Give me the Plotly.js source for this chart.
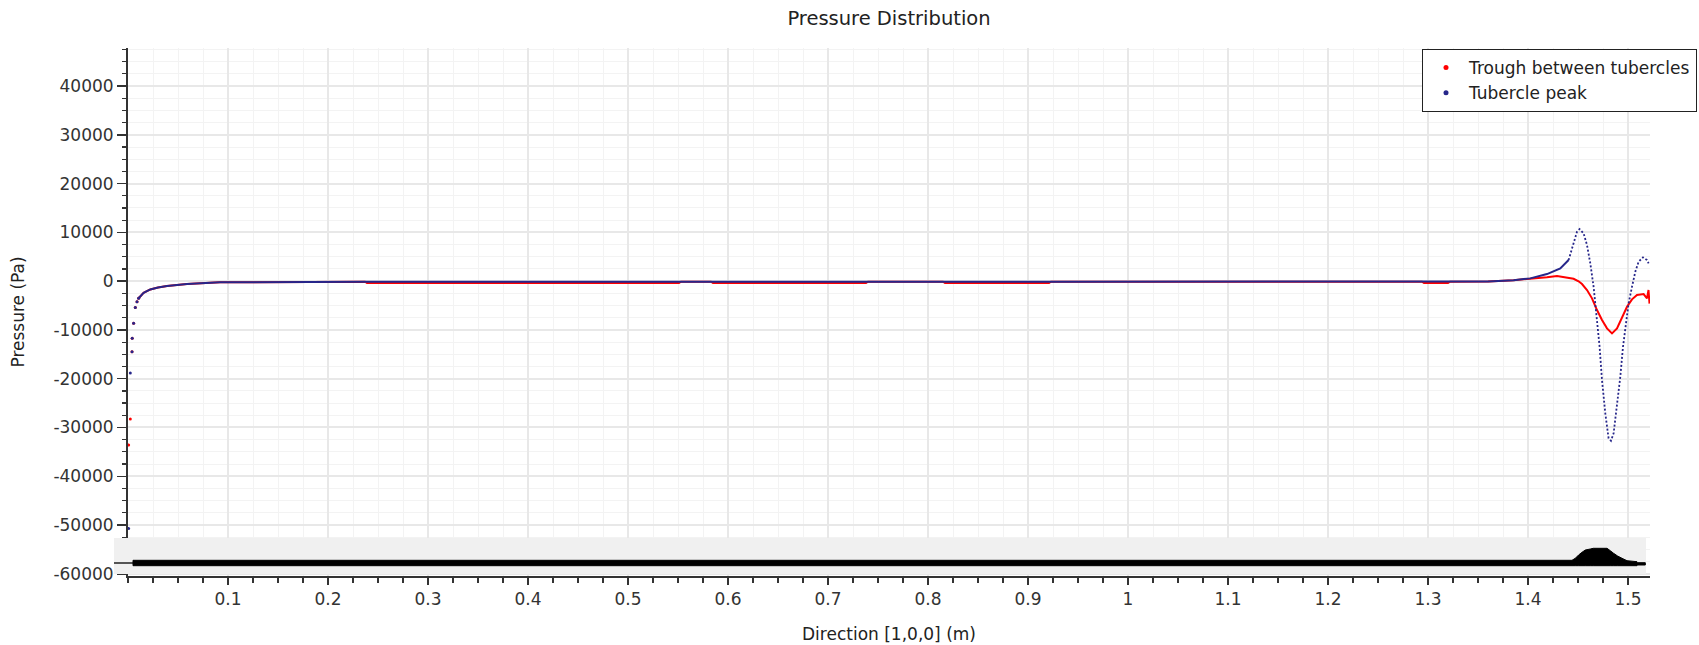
<!DOCTYPE html>
<html><head><meta charset="utf-8">
<script src="https://cdn.plot.ly/plotly-3.0.1.min.js"></script>
<style>html,body{margin:0;padding:0;background:#fff;} #chart{width:1699px;height:645px;}</style>
</head><body><div id="chart"></div>
<script>
// ---- series names ----
const nameTrough = 'Trough between tubercles';
const namePeak = 'Tubercle peak';

// ---- Trough between tubercles (x in m, pressure in Pa) ----
const x_trough = [0.0006, 0.0023, 0.004, 0.0042, 0.0056, 0.0073, 0.009, 0.0106, 0.0156, 0.0223, 0.030, 0.039, 0.059, 0.092, 0.15,
  0.237, 0.239, 0.551, 0.553, 0.583, 0.585, 0.738, 0.740, 0.815, 0.817, 0.921, 0.923, 1.294, 1.296, 1.320, 1.322,
  1.36, 1.3856, 1.4023, 1.4106, 1.419, 1.429, 1.439, 1.4456, 1.4506, 1.454, 1.459, 1.464, 1.469, 1.474, 1.479, 1.484,
  1.489, 1.494, 1.499, 1.504, 1.509, 1.5156, 1.519, 1.5205, 1.5215];
const p_trough = [-33600, -28270, -14450, -11700, -8650, -5400, -4200, -3500, -2400, -1700, -1300, -1000, -600, -250, -150,
  -100, -380, -380, -100, -100, -380, -380, -100, -100, -380, -380, -100, -100, -380, -380, -100,
  -50, 200, 430, 635, 780, 1045, 780, 490, -40, -595, -1825, -3525, -5925, -7975, -9675, -10700,
  -9675, -7625, -5250, -3730, -2850, -2645, -3525, -1825, -4600];

// ---- Tubercle peak ----
const x_peak = [0.0006, 0.0023, 0.004, 0.0042, 0.0056, 0.0073, 0.009, 0.0106, 0.0156, 0.0223, 0.030, 0.039, 0.059, 0.092, 0.15,
  0.24, 0.92, 1.30, 1.36, 1.3856, 1.4023, 1.419, 1.4323, 1.4406,
  1.4456, 1.449, 1.4516, 1.4556, 1.459, 1.4623, 1.4656, 1.469, 1.4716, 1.474, 1.4773, 1.4806, 1.483, 1.4856,
  1.489, 1.4923, 1.495, 1.4973, 1.5006, 1.504, 1.5073, 1.5106, 1.515, 1.519, 1.5206];
const p_peak = [-50700, -18850, -14450, -11700, -8650, -5400, -4200, -3500, -2400, -1700, -1300, -1000, -600, -250, -150,
  -100, -100, -100, -50, 200, 570, 1455, 2620, 4325,
  7750, 10130, 10680, 9800, 7400, 3650, -1150, -7975, -13450, -20275, -27100, -32230, -32720, -31200,
  -25750, -19600, -13450, -9350, -4550, -1150, 1930, 3980, 4880, 4325, 3650];

// ---- tick labels ----
const x_tickvals = [0.1, 0.2, 0.3, 0.4, 0.5, 0.6, 0.7, 0.8, 0.9, 1.0, 1.1, 1.2, 1.3, 1.4, 1.5];
const x_ticktext = ['0.1', '0.2', '0.3', '0.4', '0.5', '0.6', '0.7', '0.8', '0.9', '1', '1.1', '1.2', '1.3', '1.4', '1.5'];
const y_tickvals = [-60000, -50000, -40000, -30000, -20000, -10000, 0, 10000, 20000, 30000, 40000];
const y_ticktext = ['-60000', '-50000', '-40000', '-30000', '-20000', '-10000', '0', '10000', '20000', '30000', '40000'];

// ---- geometry thumbnail profile (x in m, heights in strip pixels above strip bottom) ----
const profile_x = [0.005, 1.444, 1.4473, 1.4506, 1.454, 1.4573, 1.4623, 1.4653, 1.479, 1.4823, 1.4856, 1.4896, 1.494, 1.499, 1.509, 1.5095, 1.5173];
const profile_top = [13.7, 13.7, 15.7, 19, 21.7, 24, 25, 25.7, 25.7, 23.3, 20.7, 18, 15.7, 13.3, 12.3, 11.3, 11.3];
const profile_bottom = [8.3, 8.3, 8.3, 8.3, 8.3, 8.3, 8.3, 8.3, 8.3, 8.3, 8.3, 8.3, 8.3, 8.3, 8.3, 9, 9];

// ---- helpers ----
const RED = '#ff0000', BLUE = '#26268a';
function pick(xs, ys, f) {
  const ox = [], oy = [];
  xs.forEach((v, i) => { if (f(v)) { ox.push(v); oy.push(ys[i]); } });
  return {x: ox, y: oy};
}
const FONT = 'DejaVu Sans, Verdana, sans-serif';

const tR_m = pick(x_trough, p_trough, v => v <= 0.0106);
const tR_l = pick(x_trough, p_trough, v => v >= 0.0106);
const tB_m = pick(x_peak, p_peak, v => v <= 0.0106);
const tB_l = pick(x_peak, p_peak, v => v >= 0.0106 && v <= 1.4406);
const tB_d = pick(x_peak, p_peak, v => v >= 1.4406);

const traces = [
  {x: tR_l.x, y: tR_l.y, mode: 'lines', line: {color: RED, width: 2}, showlegend: false, hoverinfo: 'skip'},
  {x: tR_m.x, y: tR_m.y, mode: 'markers', marker: {color: RED, size: 3}, showlegend: false, hoverinfo: 'skip'},
  {x: tB_l.x, y: tB_l.y, mode: 'lines', line: {color: BLUE, width: 2}, showlegend: false, hoverinfo: 'skip'},
  {x: tB_d.x, y: tB_d.y, mode: 'lines', line: {color: BLUE, width: 1.8, dash: '2px,2px'}, showlegend: false, hoverinfo: 'skip'},
  {x: tB_m.x, y: tB_m.y, mode: 'markers', marker: {color: BLUE, size: 3}, showlegend: false, hoverinfo: 'skip'},
  {x: [null], y: [null], mode: 'markers', name: nameTrough, marker: {color: RED, size: 5}},
  {x: [null], y: [null], mode: 'markers', name: namePeak, marker: {color: BLUE, size: 5}}
];

// strip geometry (paper coordinates)
const M = {l: 128, r: 49, t: 48, b: 69, autoexpand: false};
const plotH = 645 - M.t - M.b;
const stripBottomPx = 2, stripTopPx = 38; // measured above x-axis line
const yp = h => (stripBottomPx + h) / plotH;
let path = '';
profile_x.forEach((v, i) => { path += (i === 0 ? 'M' : 'L') + v + ',' + yp(profile_top[i]); });
for (let i = profile_x.length - 1; i >= 0; i--) { path += 'L' + profile_x[i] + ',' + yp(profile_bottom[i]); }
path += 'Z';

const shapes = [
  {type: 'rect', xref: 'paper', yref: 'paper', x0: -0.0092, x1: 0.9974, y0: stripBottomPx / plotH, y1: stripTopPx / plotH,
   fillcolor: '#f0f0f0', line: {width: 0}, layer: 'above'},
  {type: 'line', xref: 'paper', yref: 'paper', x0: -0.0092, x1: 0.0033, y0: yp(11), y1: yp(11),
   line: {color: '#555', width: 2}, layer: 'above'},
  {type: 'path', xref: 'x', yref: 'paper', path: path, fillcolor: '#000', line: {color: '#000', width: 1}, layer: 'above'}
];

const layout = {
  width: 1699, height: 645,
  margin: M,
  paper_bgcolor: '#fff', plot_bgcolor: '#fff',
  font: {family: FONT, size: 17, color: '#222'},
  title: {text: 'Pressure Distribution', font: {family: FONT, size: 19.5, color: '#222'}, x: 0.5, xref: 'paper', y: 1 - 18 / 645, yref: 'container', yanchor: 'middle'},
  showlegend: true,
  legend: {x: 0.8502, y: 0.998, xanchor: 'left', yanchor: 'top', bgcolor: '#fff', bordercolor: '#222', borderwidth: 1,
           itemwidth: 36, font: {family: FONT, size: 17, color: '#222'}},
  xaxis: {
    range: [0, 1.522], tickmode: 'array', tickvals: x_tickvals, ticktext: x_ticktext,
    ticks: 'outside', ticklen: 7, tickwidth: 1.5, tickcolor: '#333',
    showline: true, linecolor: '#333', linewidth: 2, zeroline: false,
    showgrid: true, gridcolor: '#e8e8e8', gridwidth: 2,
    tickfont: {family: FONT, size: 17, color: '#333'},
    minor: {tickmode: 'linear', tick0: 0, dtick: 0.025, ticks: 'outside', ticklen: 5, tickwidth: 1.2, tickcolor: '#333', showgrid: true, gridcolor: '#f3f3f3', gridwidth: 1},
    title: {text: 'Direction [1,0,0] (m)', font: {family: FONT, size: 17, color: '#222'}, standoff: 20},
    automargin: false, fixedrange: true
  },
  yaxis: {
    range: [-60450, 47800], tickmode: 'array', tickvals: y_tickvals, ticktext: y_ticktext,
    ticks: 'outside', ticklen: 9, tickwidth: 1.5, tickcolor: '#333',
    showline: true, linecolor: '#333', linewidth: 2, zeroline: false,
    showgrid: true, gridcolor: '#e8e8e8', gridwidth: 2,
    tickfont: {family: FONT, size: 17, color: '#333'},
    minor: {tickmode: 'linear', tick0: 0, dtick: 2500, ticks: 'outside', ticklen: 4.5, tickwidth: 1.2, tickcolor: '#333', showgrid: true, gridcolor: '#f3f3f3', gridwidth: 1},
    title: {text: 'Pressure (Pa)', font: {family: FONT, size: 17, color: '#222'}, standoff: 24},
    automargin: false, fixedrange: true
  },
  shapes: shapes
};

Plotly.newPlot('chart', traces, layout, {displayModeBar: false, staticPlot: true});
</script></body></html>
